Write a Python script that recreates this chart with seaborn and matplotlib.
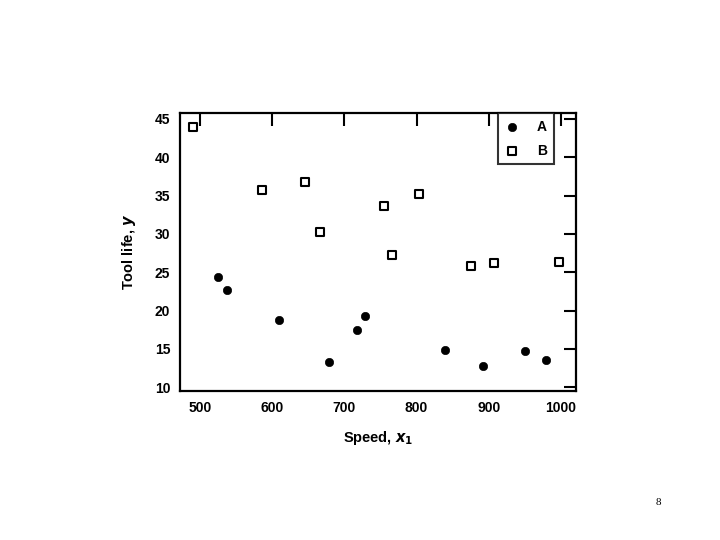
import pandas as pd
import matplotlib
matplotlib.use('Agg')
import matplotlib.pyplot as plt
import seaborn as sns

# tool A (filled circles) and tool B (open squares)
speed_a = [525, 537, 609, 679, 717, 728, 839, 892, 950, 980]
life_a = [24.4, 22.7, 18.7, 13.3, 17.5, 19.3, 14.8, 12.7, 14.7, 13.6]
speed_b = [490, 585, 645, 666, 755, 766, 804, 876, 908, 998]
life_b = [43.9, 35.7, 36.8, 30.2, 33.7, 27.2, 35.2, 25.8, 26.2, 26.3]

x_ticks = [500, 600, 700, 800, 900, 1000]
y_ticks = [10, 15, 20, 25, 30, 35, 40, 45]

df = pd.DataFrame({
    'speed': speed_a + speed_b,
    'life': life_a + life_b,
    'tool': ['A'] * len(speed_a) + ['B'] * len(speed_b),
})

sns.set_style('white')
plt.rcParams['font.family'] = ['Liberation Sans', 'DejaVu Sans']
plt.rcParams['font.weight'] = 'bold'
plt.rcParams['axes.labelweight'] = 'bold'
plt.rcParams['text.color'] = 'black'
plt.rcParams['axes.labelcolor'] = 'black'
plt.rcParams['mathtext.default'] = 'it'

fig = plt.figure(figsize=(7.2, 5.4), dpi=100)
ax = fig.add_axes([0.25, 0.276, 0.55, 0.515])

sns.scatterplot(data=df[df['tool'] == 'A'], x='speed', y='life', ax=ax,
                marker='o', color='black', edgecolor='black', s=36, label='A')
sns.scatterplot(data=df[df['tool'] == 'B'], x='speed', y='life', ax=ax,
                marker='s', facecolor='white', edgecolor='black', linewidth=1.5,
                s=32, label='B')

ax.set_xlim(472, 1021)
ax.set_ylim(9.5, 45.8)
ax.set_xticks(x_ticks)
ax.set_yticks(y_ticks)
ax.tick_params(direction='in', length=9, width=1.5, top=True, right=True,
               labelsize=10, colors='black', pad=7)
for sp in ax.spines.values():
    sp.set_linewidth(1.6)
    sp.set_color('black')

ax.set_xlabel('Speed, $x_1$', fontsize=10.5, labelpad=10)
ax.set_ylabel('Tool life, $y$', fontsize=10.5, labelpad=12)

leg = ax.legend(loc='upper right', bbox_to_anchor=(0.944, 1.0), frameon=True,
                fancybox=False, fontsize=10, handlelength=1.0, handletextpad=1.3,
                borderpad=0.5, labelspacing=0.7, borderaxespad=0)
leg.get_frame().set_edgecolor('black')
leg.get_frame().set_linewidth(1.5)

fig.text(0.91, 0.065, '8', fontsize=8, family='Liberation Serif', weight='normal')

fig.savefig('out.png', dpi=100)
